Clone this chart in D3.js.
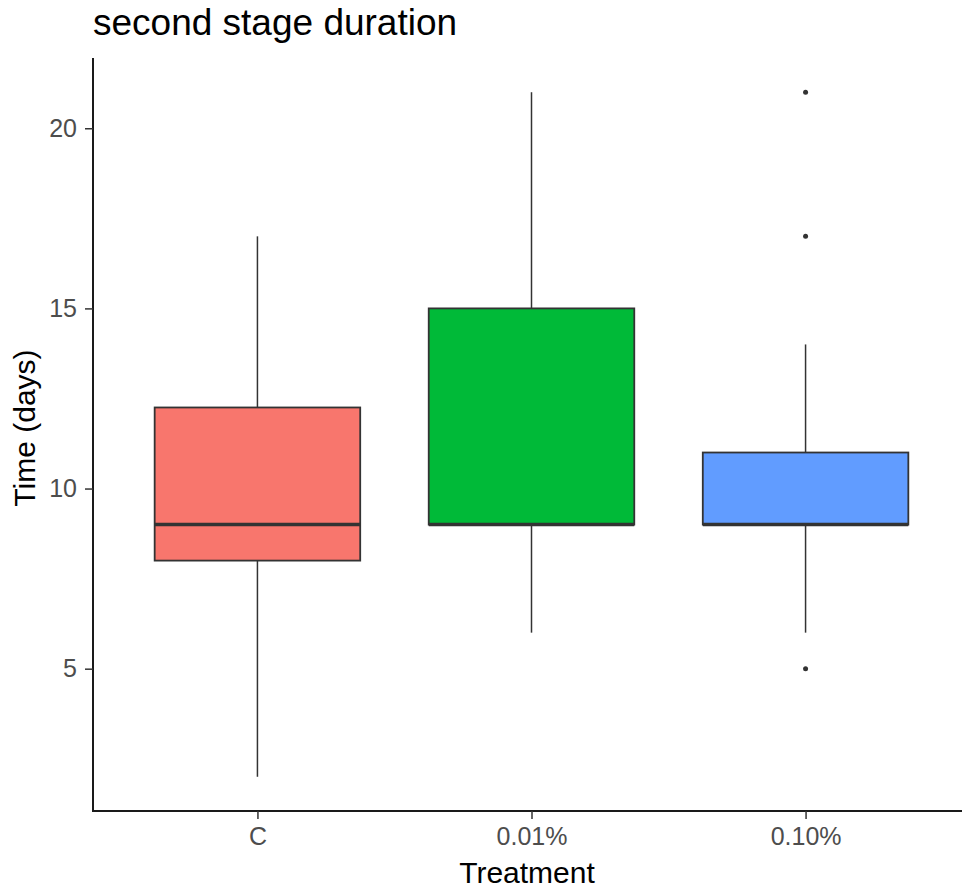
<!DOCTYPE html>
<html>
<head>
<meta charset="utf-8">
<script src="https://cdn.jsdelivr.net/npm/d3@7"></script>
<style>
  html, body { margin: 0; padding: 0; background: #fff; }
  svg text { font-family: "Liberation Sans", Arial, sans-serif; }
</style>
</head>
<body>
<div id="chart"></div>
<script>
// Dados (estatísticas do boxplot)
const categories = ['C', '0.01%', '0.10%'];
const q1 = [8, 9, 9];
const medians = [9, 9, 9];
const q3 = [12.25, 15, 11];
const whiskerLow = [2, 6, 6];
const whiskerHigh = [17, 21, 14];
const outliers = [[], [], [21, 17, 5]];
const colors = ['#F8766D', '#00BA38', '#619CFF'];
const yTicks = [5, 10, 15, 20];

const W = 962, H = 894;
const margin = { left: 93, top: 58, bottom: 811, right: 970 };

const svg = d3.select('#chart').append('svg')
  .attr('width', W)
  .attr('height', H);

// Escalas
const x = d3.scalePoint()
  .domain(categories)
  .range([margin.left, margin.right])
  .padding(0.6);

const y = d3.scaleLinear()
  .domain([1.05, 21.95])
  .range([margin.bottom, margin.top]);

const boxW = x.step() * 0.75;

const data = categories.map((c, i) => ({
  cat: c, q1: q1[i], med: medians[i], q3: q3[i],
  lo: whiskerLow[i], hi: whiskerHigh[i], out: outliers[i], color: colors[i]
}));

// Eixos
const yAxis = svg.append('g')
  .attr('transform', `translate(${margin.left},0)`)
  .call(d3.axisLeft(y).tickValues(yTicks).tickSize(8).tickPadding(8).tickSizeOuter(0));

const xAxis = svg.append('g')
  .attr('transform', `translate(0,${margin.bottom})`)
  .call(d3.axisBottom(x).tickSize(8).tickPadding(8).tickSizeOuter(0));

[xAxis, yAxis].forEach(a => {
  a.select('.domain').attr('stroke', '#1a1a1a').attr('stroke-width', 2);
  a.selectAll('.tick line').attr('stroke', '#333').attr('stroke-width', 1.5);
  a.selectAll('.tick text').attr('fill', '#4d4d4d').style('font-size', '25px');
});
// estender as linhas dos eixos até o canto
yAxis.select('.domain').attr('d', `M0,${margin.top}V${margin.bottom + 1}`);
xAxis.select('.domain').attr('d', `M${margin.left - 1},0H${margin.right}`);

// Boxplots
const box = svg.append('g').selectAll('.box')
  .data(data)
  .enter()
  .append('g')
  .attr('class', 'box');

// whiskers
box.append('line')
  .attr('x1', d => x(d.cat)).attr('x2', d => x(d.cat))
  .attr('y1', d => y(d.q3)).attr('y2', d => y(d.hi))
  .attr('stroke', '#333').attr('stroke-width', 1.5);
box.append('line')
  .attr('x1', d => x(d.cat)).attr('x2', d => x(d.cat))
  .attr('y1', d => y(d.q1)).attr('y2', d => y(d.lo))
  .attr('stroke', '#333').attr('stroke-width', 1.5);

box.append('rect')
  .attr('x', d => x(d.cat) - boxW / 2)
  .attr('width', boxW)
  .attr('y', d => y(d.q3))
  .attr('height', d => y(d.q1) - y(d.q3))
  .attr('fill', d => d.color)
  .attr('stroke', '#333')
  .attr('stroke-width', 1.8);

box.append('line')
  .attr('x1', d => x(d.cat) - boxW / 2).attr('x2', d => x(d.cat) + boxW / 2)
  .attr('y1', d => y(d.med)).attr('y2', d => y(d.med))
  .attr('stroke', '#333').attr('stroke-width', 3.5);

// outliers
box.selectAll('.out')
  .data(d => d.out.map(v => ({ cat: d.cat, v })))
  .enter()
  .append('circle')
  .attr('class', 'out')
  .attr('cx', d => x(d.cat))
  .attr('cy', d => y(d.v))
  .attr('r', 2.5)
  .attr('fill', '#333');

// Títulos
svg.append('text')
  .attr('x', margin.left)
  .attr('y', 35)
  .style('font-size', '37px')
  .attr('fill', '#000')
  .text('second stage duration');

svg.append('text')
  .attr('x', 527)
  .attr('y', 883)
  .attr('text-anchor', 'middle')
  .style('font-size', '30px')
  .attr('fill', '#000')
  .text('Treatment');

svg.append('text')
  .attr('transform', `translate(35,428) rotate(-90)`)
  .attr('text-anchor', 'middle')
  .style('font-size', '30px')
  .attr('fill', '#000')
  .text('Time (days)');
</script>
</body>
</html>
